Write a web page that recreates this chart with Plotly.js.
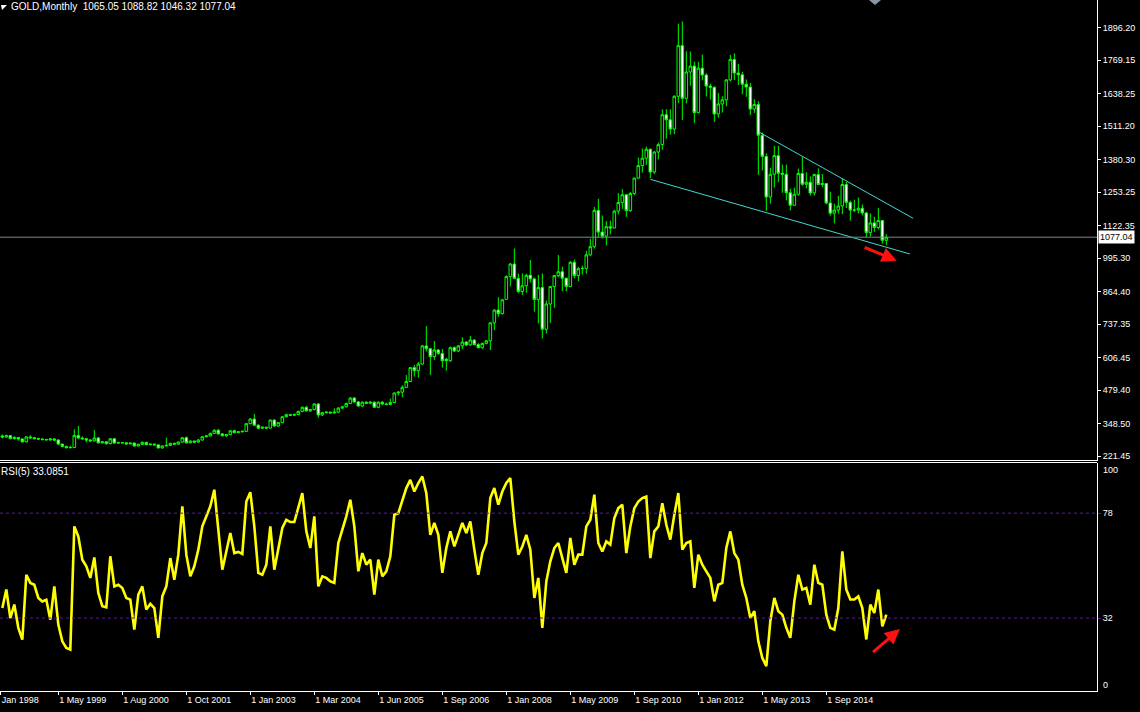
<!DOCTYPE html>
<html><head><meta charset="utf-8">
<script src="https://cdn.plot.ly/plotly-3.0.1.min.js"></script>
<style>html,body{margin:0;padding:0;background:#000;}#chart{width:1140px;height:712px;}</style>
</head><body><div id="chart"></div>
<script>
// ---- data: monthly GOLD candles (bar index 0..221) ----
const open = [300,296,301,290,294,288,277,296,293,290,288,286,285,288,284,268,259,254,255,302,292,289,284,281,292,273,277,270,289,272,274,273,269,272,261,267,275,266,268,265,253,261,263,271,268,276,293,273,280,276,284,297,300,310,322,308,301,305,320,313,316,318,348,366,342,330,334,331,362,339,352,375,383,381,384,396,412,398,403,425,382,391,393,390,393,409,414,427,448,433,417,432,428,432,412,432,425,423,431,468,471,490,513,567,555,581,652,641,610,636,622,600,594,645,632,652,667,656,675,657,645,662,672,742,792,778,
834,923,972,916,865,887,928,914,833,880,717,816,884,927,942,917,884,979,927,954,955,1008,1040,1182,1097,1081,1118,1113,1179,1213,1243,1181,1248,1308,1357,1386,1421,1332,1410,1439,1556,1536,1500,1628,1826,1620,1723,1746,1564,1738,1711,1668,1663,1559,1598,1614,1692,1772,1719,1712,1675,1664,1578,1596,1476,1393,1234,1323,1396,1327,1323,1251,1202,1245,1326,1284,1292,1250,1322,1283,1287,1211,1171,1183,1199,1283,1213,1183,1183,1190,1172,1095,1133,1115,1142,1065.05];
const high = [306,305,304,299,296,290,300,303,296,293,291,289,292,291,287,270,262,262,326,339,298,293,288,323,296,280,280,292,292,277,276,275,274,274,270,278,277,270,270,267,263,293,273,274,279,296,298,283,282,288,300,304,313,326,328,311,308,323,324,319,321,350,369,386,345,337,336,365,365,355,378,387,386,387,399,415,417,406,428,429,394,396,395,408,412,418,430,452,452,437,435,435,435,435,435,436,430,446,470,475,498,538,570,577,589,656,730,645,671,640,640,605,650,650,656,686,670,691,678,663,665,675,745,795,842,836,
928,976,1033,935,935,934,988,919,930,935,829,882,930,1007,962,918,984,990,962,966,1024,1071,1195,1227,1162,1140,1142,1185,1249,1265,1245,1254,1310,1388,1424,1431,1424,1414,1447,1577,1577,1577,1632,1912,1921,1804,1803,1763,1763,1791,1718,1677,1667,1641,1628,1695,1790,1796,1755,1724,1694,1680,1616,1609,1487,1405,1348,1434,1434,1361,1361,1267,1271,1345,1392,1331,1315,1326,1346,1324,1287,1255,1208,1239,1307,1293,1220,1224,1232,1205,1175,1170,1157,1191,1142,1088.82];
const low = [290,293,286,285,282,274,275,288,286,284,282,282,281,280,264,256,251,251,252,287,285,275,276,278,271,270,266,267,270,270,271,266,267,258,259,265,264,263,263,251,251,259,261,265,266,274,270,271,272,274,282,294,298,307,305,298,296,303,310,311,314,316,345,338,327,328,328,329,336,336,350,372,378,378,381,393,395,394,400,371,378,388,387,387,390,405,411,424,430,414,413,424,425,409,408,420,420,420,428,458,451,487,510,532,528,578,630,538,597,618,567,555,590,628,628,640,652,652,655,642,641,658,636,714,766,775,
834,885,917,858,851,860,900,786,740,681,700,741,801,920,866,865,884,916,905,931,934,1003,1033,1075,1072,1045,1088,1112,1166,1188,1157,1176,1241,1306,1330,1360,1308,1324,1381,1419,1462,1478,1480,1601,1535,1600,1669,1523,1564,1690,1627,1615,1527,1544,1564,1589,1686,1692,1672,1636,1626,1555,1563,1321,1338,1180,1208,1271,1292,1251,1221,1182,1201,1239,1278,1268,1240,1240,1281,1273,1206,1161,1131,1170,1167,1191,1142,1175,1170,1162,1077,1080,1098,1107,1052,1046.32];
const close = [296,301,290,294,288,277,296,293,290,288,286,285,288,284,268,259,254,255,302,292,289,284,281,292,273,277,270,289,272,274,273,269,272,261,267,275,266,268,265,253,261,263,271,268,276,293,273,280,276,284,297,300,310,322,308,301,305,320,313,316,318,348,366,342,330,334,331,362,339,352,375,383,381,384,396,412,398,403,425,382,391,393,390,393,409,414,427,448,433,417,432,428,432,412,432,425,423,431,468,471,490,513,567,555,581,652,641,610,636,622,594,594,645,632,652,667,656,675,657,645,662,672,742,792,778,832,
923,972,916,865,887,928,914,833,880,717,816,884,927,942,917,884,979,927,954,955,1008,1040,1182,1097,1081,1118,1113,1179,1213,1243,1181,1248,1308,1357,1386,1421,1332,1410,1439,1556,1536,1500,1628,1826,1620,1723,1746,1564,1738,1711,1668,1663,1559,1598,1614,1692,1772,1719,1712,1675,1664,1578,1596,1476,1393,1234,1323,1396,1327,1323,1251,1202,1245,1326,1284,1292,1250,1322,1283,1287,1211,1171,1183,1199,1283,1213,1183,1183,1190,1172,1095,1133,1115,1142,1065.05,1077.04];
// RSI(5) values per bar
const rsi = [36.4,44.5,32,37.9,27.7,22.5,51,47.4,46.6,40.8,39.3,40,31.3,45.9,29.1,21.8,18.9,18.2,72.2,67.8,57.6,54.7,49.6,58.6,43,37.2,36.7,59.1,45.9,46.6,45.2,40.8,40.1,26.9,42.3,45.9,35.7,38.2,36.4,23.3,41.5,45.9,58.3,48.8,59.8,81,59.8,50.3,54.7,62,72.2,76.6,81,88.3,70,53.2,61.2,69.3,60.5,61,60.1,83.1,87.2,72.2,51.8,51,55.4,72.2,53.2,62.7,71.5,75.1,74.1,74.1,81,86.8,70,62.7,76.6,45.9,50.3,49.6,48.1,47.4,64.9,70.7,76.6,83.9,72.2,52.5,60.5,55.4,57.6,42.3,57.6,50.3,52.5,59.1,77.3,78,83.9,89,92.6,87.5,91.2,94.1,86.8,68.5,73.7,68.5,51.8,62.7,
70,63.4,68.5,73.7,69.3,74.4,62,51,60.5,64.9,84.6,89,81.7,87.5,91.2,93.4,74.4,59.8,63.4,68.5,62,40.8,49.6,27.7,48.1,56.9,62.7,64.9,58.3,51.8,67.1,55.4,59.8,59.8,72.2,75.1,86.1,64.9,61.2,65.6,64.2,75.8,80.2,81.7,60.5,72.2,80.2,83.1,84.6,85.3,58.3,70,72.2,82.4,72.9,66.4,77.3,86.8,62,64.9,65.6,45.2,59.8,55.4,52.5,49.6,39.3,46.6,47.4,62.7,70,60.5,57.6,46.6,40.8,32,35,21.8,14.5,10.9,30.6,40.8,35,33.5,27.7,23.3,39.3,51,44.5,45.2,37.9,55.4,47.4,46.6,33.5,27.7,26.9,36.4,61.2,44.5,40.1,40.1,41.5,36.4,22.6,37.9,34.2,44.5,28.4,33.5];
const bars = close.map((_, i) => i);
// axis tick labels
const xTickBars = [-0.4,14,30,46,62,78,94,110,126,142,158,174,190,206];
const xTickText = ['Jan 1998','1 May 1999','1 Aug 2000','1 Oct 2001','1 Jan 2003','1 Mar 2004','1 Jun 2005','1 Sep 2006','1 Jan 2008','1 May 2009','1 Sep 2010','1 Jan 2012','1 May 2013','1 Sep 2014'];
const priceTicks = [1896.20,1769.15,1638.25,1511.20,1380.30,1253.25,1122.35,995.30,864.40,737.35,606.45,479.40,348.50,221.45];
const rsiLevels = [78,32];
// drawn objects (trend lines, arrows)
const upperTrendX = [189,227.7], upperTrendY = [1489.6,1150.9];
const lowerTrendX = [162,226.9], lowerTrendY = [1303.4,1011.4];
const priceArrow = {from:[215.2,1039.9], to:[223.6,985.2]};
const rsiArrow = {from:[217.3,16.5], to:[224.4,27.2]};

const W = 1140, H = 712, ML = 0, MR = 43, MT = 0, MB = 21;
const PW = W - ML - MR, PH = H - MT - MB;
const px = x => (x - ML) / PW, py = y => 1 - (y - MT) / PH;
const FONT = 'Liberation Sans, Arial, sans-serif';
const last = close[close.length - 1];

const traces = [
  {type:'candlestick', x:bars, open:open, high:high, low:low, close:close, xaxis:'x', yaxis:'y',
   increasing:{line:{color:'#00ff00', width:1}, fillcolor:'#000000'},
   decreasing:{line:{color:'#00ff00', width:1}, fillcolor:'#ffffff'},
   whiskerwidth:0, hoverinfo:'skip', showlegend:false},
  {type:'scatter', mode:'lines', x:upperTrendX, y:upperTrendY, xaxis:'x', yaxis:'y', line:{color:'#40d8d0', width:1}, hoverinfo:'skip', showlegend:false},
  {type:'scatter', mode:'lines', x:lowerTrendX, y:lowerTrendY, xaxis:'x', yaxis:'y', line:{color:'#40d8d0', width:1}, hoverinfo:'skip', showlegend:false},
  {type:'scatter', mode:'lines', x:bars, y:rsi, xaxis:'x', yaxis:'y2', line:{color:'#ffff00', width:2.6}, hoverinfo:'skip', showlegend:false}
];

const layout = {
  width:W, height:H, margin:{l:ML, r:MR, t:MT, b:MB, pad:0},
  paper_bgcolor:'#000', plot_bgcolor:'#000', showlegend:false,
  boxgap:0.35, boxgroupgap:0,
  font:{family:FONT, size:9, color:'#fff'},
  xaxis:{range:[-0.58,273.67], anchor:'y2', showgrid:false, zeroline:false, showline:true, linecolor:'#fff', linewidth:1,
    tickmode:'array', tickvals:xTickBars, ticktext:xTickText, ticks:'outside', ticklen:3, tickcolor:'#fff',
    ticklabelposition:'outside right', tickfont:{family:FONT, size:9, color:'#fff'}, rangeslider:{visible:false}, fixedrange:true},
  yaxis:{domain:[py(461),1], range:[202.0,2004.5], side:'right', showgrid:false, zeroline:false, showline:true, linecolor:'#fff', linewidth:1,
    tickmode:'array', tickvals:priceTicks, ticktext:priceTicks.map(v=>v.toFixed(2)), ticks:'outside', ticklen:3, tickcolor:'#fff',
    tickfont:{family:FONT, size:9, color:'#fff'}, fixedrange:true},
  yaxis2:{domain:[0,py(463)], range:[0,100], side:'right', anchor:'x', showgrid:false, zeroline:false, showline:true, linecolor:'#fff', linewidth:1,
    tickmode:'array', tickvals:rsiLevels, ticktext:rsiLevels.map(String), ticks:'outside', ticklen:3, tickcolor:'#5a1a9a',
    tickfont:{family:FONT, size:9, color:'#fff'}, fixedrange:true},
  shapes:[
    {type:'line', xref:'paper', yref:'paper', x0:0, x1:1, y0:py(460.5), y1:py(460.5), line:{color:'#fff', width:1}},
    {type:'line', xref:'paper', yref:'paper', x0:0, x1:1, y0:py(462.5), y1:py(462.5), line:{color:'#fff', width:1}},
    {type:'line', xref:'paper', yref:'y', x0:0, x1:1, y0:last, y1:last, line:{color:'#778899', width:1}},
    {type:'line', xref:'paper', yref:'y2', x0:0, x1:1, y0:rsiLevels[0], y1:rsiLevels[0], line:{color:'#5a1a9a', width:1, dash:'3px,3px'}},
    {type:'line', xref:'paper', yref:'y2', x0:0, x1:1, y0:rsiLevels[1], y1:rsiLevels[1], line:{color:'#5a1a9a', width:1, dash:'3px,3px'}},
    {type:'path', xref:'paper', yref:'paper', path:`M ${px(869)},${py(0)} L ${px(881)},${py(0)} L ${px(875)},${py(5)} Z`, fillcolor:'#8a96a6', line:{width:0}},
    {type:'path', xref:'paper', yref:'paper', path:`M ${px(1)},${py(5)} L ${px(7)},${py(5)} L ${px(2)},${py(10)} Z`, fillcolor:'#fff', line:{width:0}}
  ],
  annotations:[
    {xref:'paper', yref:'paper', x:px(9), y:py(7), xanchor:'left', yanchor:'middle', showarrow:false,
     text:'GOLD,Monthly  1065.05 1088.82 1046.32 1077.04', font:{family:FONT, size:10, color:'#fff'}},
    {xref:'paper', yref:'paper', x:px(-1), y:py(471), xanchor:'left', yanchor:'middle', showarrow:false,
     text:'RSI(5) 33.0851', font:{family:FONT, size:10, color:'#fff'}},
    {xref:'paper', yref:'y', x:1, y:last, xanchor:'left', yanchor:'middle', showarrow:false, xshift:1,
     text:last.toFixed(2), bgcolor:'#fff', font:{family:FONT, size:9, color:'#000'}, borderpad:1},
    {xref:'paper', yref:'paper', x:1, y:py(470), xanchor:'left', yanchor:'middle', showarrow:false, xshift:4,
     text:'100', font:{family:FONT, size:9, color:'#fff'}},
    {xref:'paper', yref:'paper', x:1, y:py(685), xanchor:'left', yanchor:'middle', showarrow:false, xshift:4,
     text:'0', font:{family:FONT, size:9, color:'#fff'}},
    {xref:'x', yref:'y', x:priceArrow.to[0], y:priceArrow.to[1], axref:'x', ayref:'y', ax:priceArrow.from[0], ay:priceArrow.from[1],
     showarrow:true, arrowhead:2, arrowsize:1, arrowwidth:3, arrowcolor:'#ff1010', text:''},
    {xref:'x', yref:'y2', x:rsiArrow.to[0], y:rsiArrow.to[1], axref:'x', ayref:'y2', ax:rsiArrow.from[0], ay:rsiArrow.from[1],
     showarrow:true, arrowhead:2, arrowsize:1, arrowwidth:3, arrowcolor:'#ff1010', text:''}
  ]
};
Plotly.newPlot('chart', traces, layout, {staticPlot:true, displayModeBar:false});
</script></body></html>
